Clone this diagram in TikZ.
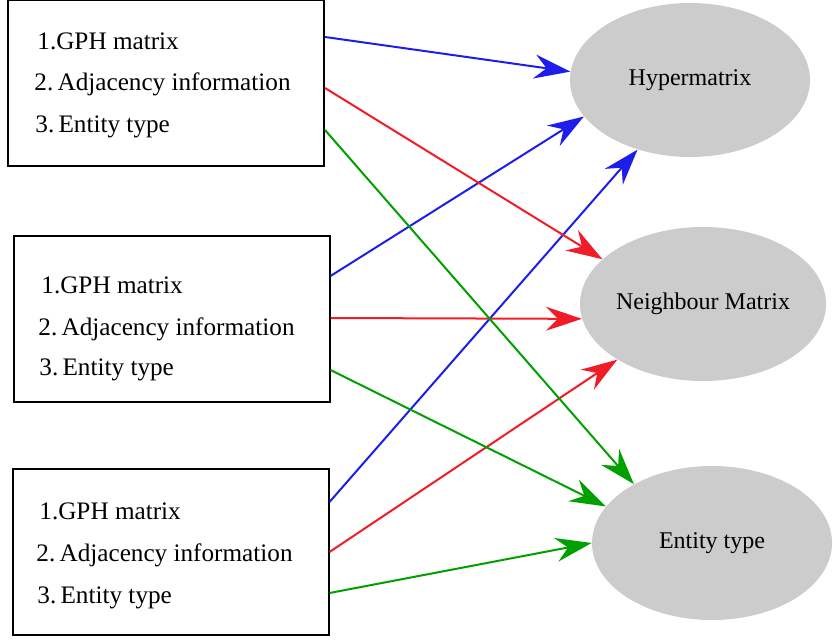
\documentclass[tikz,border=0pt]{standalone}
\usepackage{fontspec}
\setmainfont{Liberation Serif}
\usetikzlibrary{arrows.meta,shapes.geometric}
\definecolor{eblue}{RGB}{30,30,235}
\definecolor{ered}{RGB}{240,28,40}
\definecolor{egreen}{RGB}{0,160,0}
\begin{document}
\begin{tikzpicture}[x=0.5pt,y=-0.5pt,
	infobox/.style={draw,line width=1pt,inner sep=0pt,minimum width=158pt,minimum height=83pt},
	item/.style={anchor=west,inner sep=0pt,font=\fontsize{12.6}{15}\selectfont},
	target/.style={ellipse,fill=black!20,inner sep=0pt,minimum width=120pt,minimum height=77pt,font=\fontsize{12}{14}\selectfont},
	link/.style={line width=1pt,-{Stealth[length=18pt,width=12pt,inset=6pt]}}]
	\useasboundingbox (0,0) rectangle (833,640);
	% output ellipses
	\node[target] (hyper) at (690,80) {Hypermatrix};
	\node[target] (neigh) at (703,304) {Neighbour Matrix};
	\node[target] (etype) at (712,543) {Entity type};
	% input boxes
	\node[infobox] (b1) at (166,83) {};
	\node[infobox] (b2) at (171.5,319) {};
	\node[infobox] (b3) at (170.5,552) {};
	\foreach \i/\x/\ya/\yb/\yc in {1/34/41/84/127, 2/38/285/329/370, 3/36/511/555/598} {
		\node[item] (g\i) at (\x+3,\ya) {1.GPH matrix};
		\node[item] (a\i) at (\x,\yb) {2.\kern-1pt\ Adjacency information};
		\node[item] (t\i) at (\x+1,\yc) {3.\kern-1pt\ Entity type};
	}
	% connectors
	\draw[link,eblue] (b1.east|-0,37) -- (hyper.176);
	\draw[link,eblue] (b2.east|-0,276) -- (hyper.199);
	\draw[link,eblue] (b3.east|-0,502) -- (hyper.233);
	\draw[link,ered] (b1.east|-0,88) -- (neigh.156);
	\draw[link,ered] (b2.east|-0,318) -- (neigh.187);
	\draw[link,ered] (b3.east|-0,552) -- (neigh.213);
	\draw[link,egreen] (b1.east|-0,130) -- (etype.143);
	\draw[link,egreen] (b2.east|-0,370) -- (etype.161);
	\draw[link,egreen] (b3.east|-0,593) -- (etype.180);
\end{tikzpicture}
\end{document}
